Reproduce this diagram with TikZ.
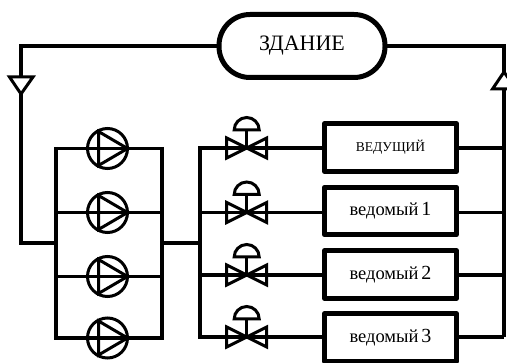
\documentclass[tikz,border=0pt]{standalone}
\usepackage{fontspec}
\setmainfont{Liberation Serif}
\newcommand{\slave}[1]{\fontsize{18.5}{18.5}\selectfont ведомый\hspace{3pt}{\fontsize{20}{20}\selectfont #1}}
\begin{document}
\begin{tikzpicture}[x=1pt,y=-1pt,
  pipe/.style={line width=3.2pt},
  thick pipe/.style={line width=4pt},
  bus/.style={line width=4pt,shorten <=-1.6pt,shorten >=-1.6pt},
  sym/.style={line width=3pt,line join=miter},
  unit/.style={draw,line width=5pt,minimum width=132pt,minimum height=47.5pt,inner sep=0pt,line join=round},
  pump/.style={draw,circle,line width=3pt,minimum size=40pt,inner sep=0pt},
  building/.style={draw,fill=white,rounded corners=31pt,line width=5pt,minimum width=166pt,minimum height=63pt,inner sep=0pt,font=\fontsize{22}{22}\selectfont}]
\useasboundingbox (0,0) rectangle (507,363);
\clip (0,0) rectangle (507,363);
\foreach \n/\y in {0/148.5,1/212.5,2/276.5,3/338}{
  \node[pump] (p\n) at (107.5,\y) {};
  \coordinate (pl\n) at (55.5,\y);
  \coordinate (pr\n) at (162,\y);
  \draw[sym] (p\n.center) ++(-9,-17) -- ++(0,34) -- ++(29,-17) -- cycle;
  \draw[pipe] (pl\n) -- (pr\n);
}
\node[unit] (u0) at (390.5,147.5) {\fontsize{13.5}{13.5}\selectfont ВЕДУЩИЙ};
\node[unit] (u1) at (390.5,211) {\slave{1}};
\node[unit] (u2) at (390.5,274.5) {\slave{2}};
\node[unit] (u3) at (390.5,337.5) {\slave{3}};
\foreach \n/\y in {0/148,1/212.5,2/275,3/337}{
  \coordinate (v\n) at (246.7,\y);
  \coordinate (b\n) at (200,\y);
  \coordinate (r\n) at (503.5,\y);
  \draw[sym] (v\n) -- ++(-20,-10) -- ++(0,20) -- cycle;
  \draw[sym] (v\n) -- ++(20,-10) -- ++(0,20) -- cycle;
  \draw[sym] (v\n) -- ++(0,-18);
  \draw[sym] (v\n) ++(-12.5,-18) -- ++(25,0) arc[start angle=0,end angle=-180,x radius=12.5pt,y radius=-12.5pt] -- cycle;
  \draw[pipe] (b\n) -- (u\n.west |- v\n);
  \draw[pipe] (u\n.east |- v\n) -- (r\n);
}
\coordinate (tl) at (20.5,46);
\coordinate (bl) at (20.5,243);
\coordinate (ml) at (162,243);
\coordinate (mr) at (200,243);
\coordinate (tr) at (503.5,46);
\coordinate (bc) at (302,46);
\draw[bus] (pl0) -- (pl3);
\draw[bus] (pr0) -- (pr3);
\draw[bus] (b0) -- (b3);
\draw[thick pipe,line join=miter] (r3) -- (tr) -- (bc);
\draw[thick pipe,line join=miter] (bc) -- (tl) -- (bl) -- (pl0|-bl);
\draw[pipe] (ml) -- (mr);
\node[building] (bld) at (bc) {ЗДАНИЕ};
\coordinate (fa) at (21,94);
\draw[sym,fill=white] (fa) -- (9.5,77) -- (33,77) -- cycle;
\coordinate (fb) at (504,72);
\draw[sym,fill=white] (fb) -- (492.5,89) -- (516,89) -- cycle;
\end{tikzpicture}
\end{document}
